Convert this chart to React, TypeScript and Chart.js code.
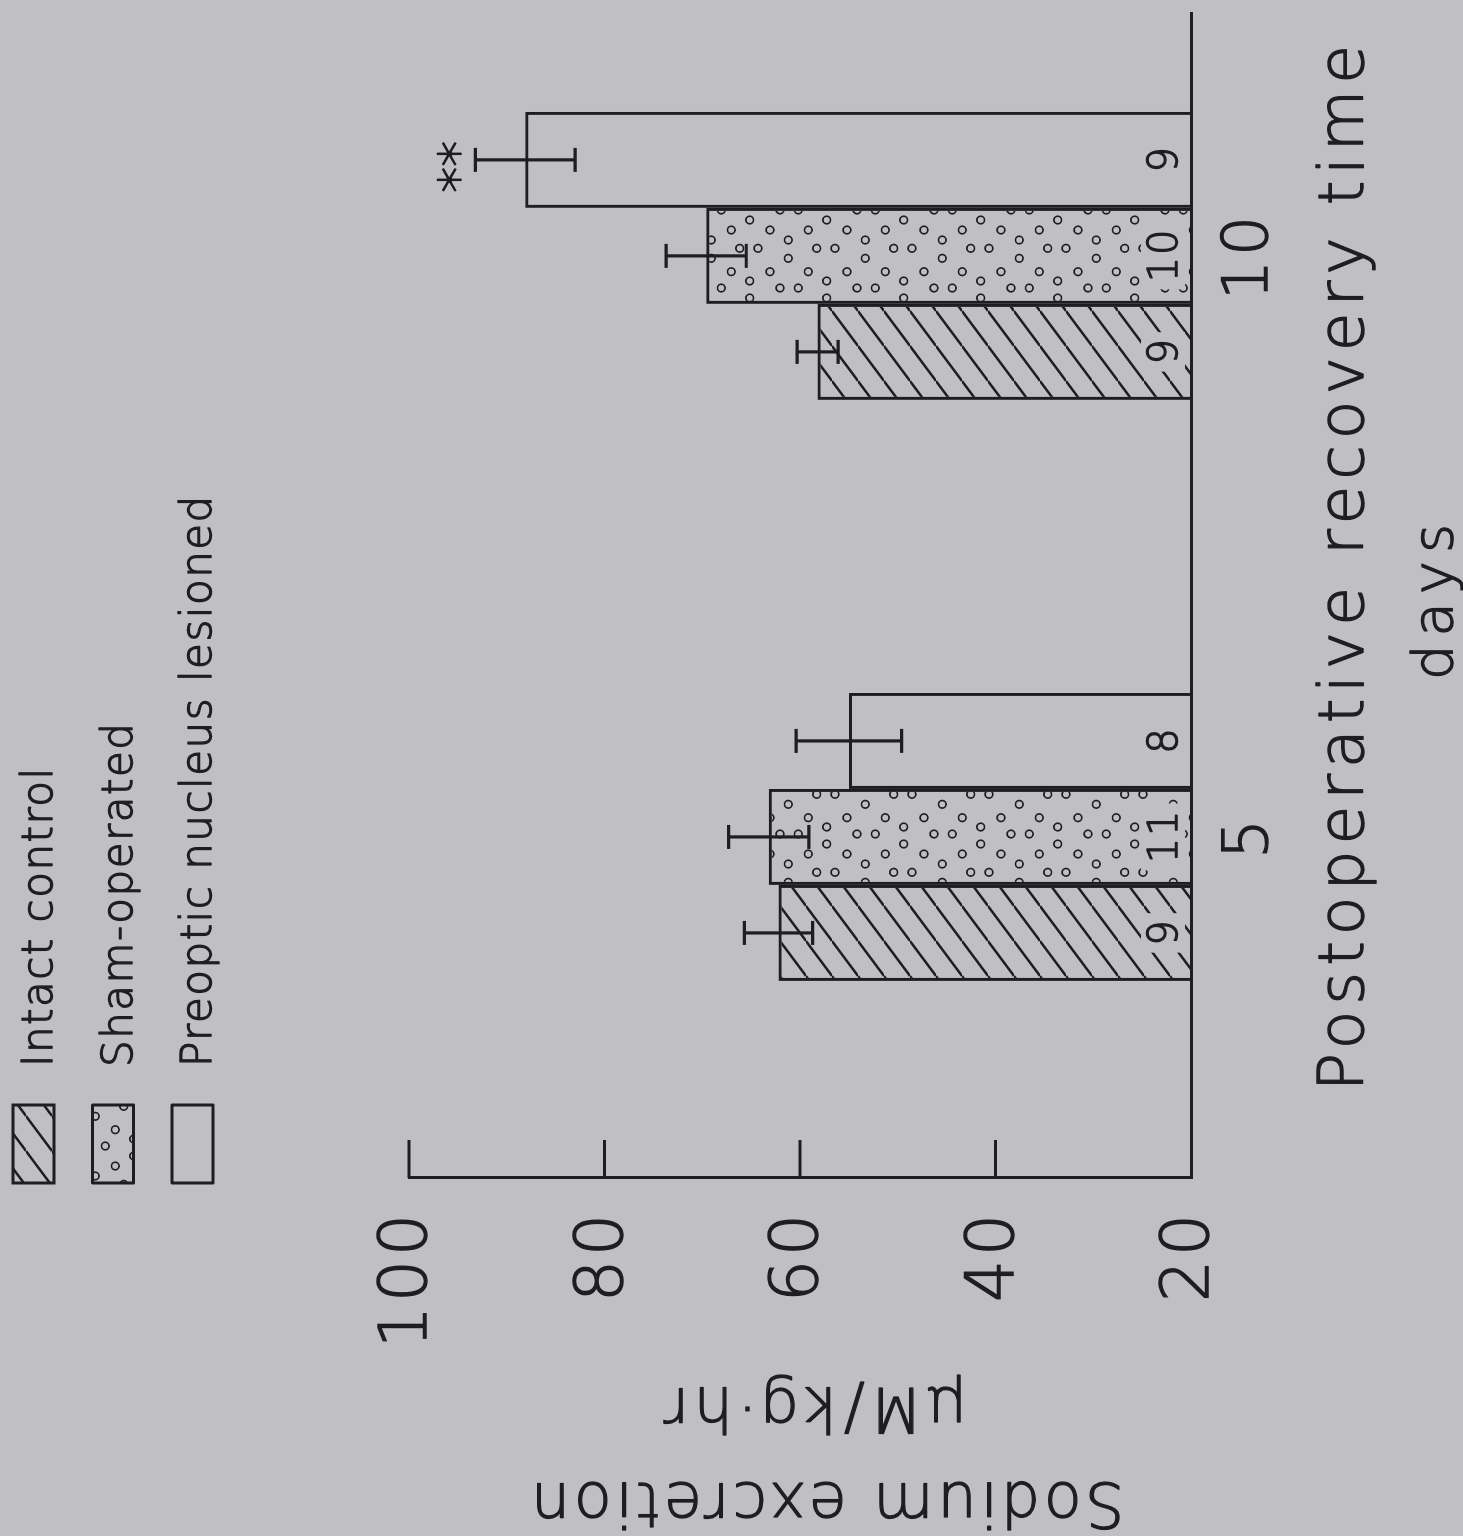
import { useEffect, useRef } from 'react';
import { Chart, registerables } from 'chart.js';

Chart.register(...registerables);

// ---- data -------------------------------------------------------------
const DAYS = [5, 10];
const INTACT_MEAN = [62.2, 58.2];
const SHAM_MEAN = [63.2, 69.6];
const PREOPTIC_MEAN = [55.0, 88.1];
const INTACT_SEM = [3.5, 2.1];
const SHAM_SEM = [4.1, 4.1];
const PREOPTIC_SEM = [5.4, 5.1];
const INTACT_N = ['9', '9'];
const SHAM_N = ['11', '10'];
const PREOPTIC_N = ['8', '9'];
const PREOPTIC_SIG = ['', '**'];
const Y_TICKS = [20, 40, 60, 80, 100];
const SERIES_NAMES = ['Intact control', 'Sham-operated', 'Preoptic nucleus lesioned'];
const X_TITLE = 'Postoperative recovery time';
const X_UNIT = 'days';
const Y_TITLE = 'Sodium excretion';
const Y_UNIT = 'µM/kg·hr';

// ---- look -------------------------------------------------------------
// The figure is laid out upright (W x H) and turned a quarter turn
// counter-clockwise on the page.
const W = 1536;
const H = 1463;
const BG = '#c0c0c4';
const INK = '#1e1e20';
const FAMILY = "'DejaVu Sans', 'Liberation Sans', sans-serif";
const WEIGHT = 300;
const STROKE = 1.3;
const font = (size: number) => `${WEIGHT} ${size}px ${FAMILY}`;

const PLOT = { left: 358, right: 1523, top: 409, bottom: 1191 };

function ink(c: CanvasRenderingContext2D, text: string, x: number, y: number) {
  c.lineWidth = STROKE;
  c.strokeStyle = INK;
  c.fillStyle = INK;
  c.lineJoin = 'round';
  c.strokeText(text, x, y);
  c.fillText(text, x, y);
}

function makeHatch(ctx: CanvasRenderingContext2D) {
  const tw = 35;
  const th = 26;
  const c = document.createElement('canvas');
  c.width = tw;
  c.height = th;
  const g = c.getContext('2d')!;
  g.strokeStyle = INK;
  g.lineWidth = 2.6;
  for (let k = -1; k <= 1; k++) {
    g.beginPath();
    g.moveTo(k * tw, th);
    g.lineTo(k * tw + tw, 0);
    g.stroke();
  }
  return ctx.createPattern(c, 'repeat')!;
}

// small open circles, staggered
const DOT_TILE = { w: 78, h: 77 };
const DOT_SPOTS = [
  [0, 10], [0, 28.3], [68, 56.7], [58, 0], [58, 38.3], [48, 18.3],
  [39.7, 46.7], [39.7, 65], [29.7, 18.3], [16.3, 0], [16.3, 38.3], [7, 56.7],
];

function makeDots(ctx: CanvasRenderingContext2D) {
  const c = document.createElement('canvas');
  c.width = DOT_TILE.w;
  c.height = DOT_TILE.h;
  const g = c.getContext('2d')!;
  g.strokeStyle = INK;
  g.lineWidth = 1.7;
  for (const [u, v] of DOT_SPOTS) {
    for (const du of [-DOT_TILE.w, 0, DOT_TILE.w]) {
      for (const dv of [-DOT_TILE.h, 0, DOT_TILE.h]) {
        g.beginPath();
        g.arc(u + du, v + dv, 3.8, 0, Math.PI * 2);
        g.stroke();
      }
    }
  }
  return ctx.createPattern(c, 'repeat')!;
}

export default function App() {
  const ref = useRef<HTMLCanvasElement>(null);

  useEffect(() => {
    document.body.style.background = BG;
    const canvas = ref.current!;
    const ctx = canvas.getContext('2d')!;
    const fills: any[] = [makeHatch(ctx), makeDots(ctx), 'rgba(0,0,0,0)'];
    const means = [INTACT_MEAN, SHAM_MEAN, PREOPTIC_MEAN];
    const sems = [INTACT_SEM, SHAM_SEM, PREOPTIC_SEM];
    const counts = [INTACT_N, SHAM_N, PREOPTIC_N];
    const yMin = Y_TICKS[0];
    const yMax = Y_TICKS[Y_TICKS.length - 1];

    const overlay = {
      id: 'overlay',
      beforeDraw(chart: any) {
        chart.ctx.letterSpacing = '4px';
      },
      afterDatasetsDraw(chart: any) {
        const c: CanvasRenderingContext2D = chart.ctx;
        const area = chart.chartArea;
        const y = chart.scales.y;
        c.save();
        c.letterSpacing = '0px';
        c.strokeStyle = INK;
        c.fillStyle = INK;
        c.lineWidth = 3;
        c.lineCap = 'butt';

        // tick marks pointing into the plot
        for (const t of Y_TICKS) {
          if (t === yMin) continue;
          const py = y.getPixelForValue(t);
          c.beginPath();
          c.moveTo(area.left, py);
          c.lineTo(area.left + 38, py);
          c.stroke();
        }

        means.forEach((series, di) => {
          const meta = chart.getDatasetMeta(di);
          meta.data.forEach((bar: any, i: number) => {
            const m = series[i];
            const e = sems[di][i];
            const top = y.getPixelForValue(m + e);
            const bot = y.getPixelForValue(m - e);
            c.lineWidth = 3.2;
            c.strokeStyle = INK;
            c.beginPath();
            c.moveTo(bar.x, top);
            c.lineTo(bar.x, bot);
            c.moveTo(bar.x - 12, top);
            c.lineTo(bar.x + 12, top);
            c.moveTo(bar.x - 12, bot);
            c.lineTo(bar.x + 12, bot);
            c.stroke();

            // group size at the foot of each bar
            const label = counts[di][i];
            c.font = font(40);
            c.letterSpacing = '2px';
            const tw = c.measureText(label).width;
            const base = area.bottom - 14;
            if (di < 2) {
              c.fillStyle = BG;
              c.fillRect(bar.x - tw / 2 - 6, base - 36, tw + 12, 44);
            }
            c.textAlign = 'center';
            c.textBaseline = 'alphabetic';
            ink(c, label, bar.x + 1, base);

            if (di === 2 && PREOPTIC_SIG[i]) {
              c.font = font(52);
              c.letterSpacing = '0px';
              ink(c, PREOPTIC_SIG[i], bar.x - 7, top + 1);
            }
          });
        });
        c.restore();
      },
      afterDraw(chart: any) {
        const c: CanvasRenderingContext2D = chart.ctx;
        const area = chart.chartArea;
        c.save();

        // legend
        SERIES_NAMES.forEach((name, i) => {
          const bx = 353;
          const by = 13 + i * 79.5;
          c.fillStyle = fills[i];
          c.fillRect(bx, by, 78, 41);
          c.lineWidth = 3;
          c.strokeStyle = INK;
          c.strokeRect(bx, by, 78, 41);
          c.font = font(42);
          c.letterSpacing = '1.5px';
          c.textAlign = 'left';
          c.textBaseline = 'alphabetic';
          ink(c, name, 469, by + 39);
        });

        // x-axis title
        c.textAlign = 'center';
        c.textBaseline = 'alphabetic';
        c.font = font(63);
        c.letterSpacing = '6px';
        ink(c, X_TITLE, area.left + 613, area.bottom + 172);
        c.font = font(56);
        c.letterSpacing = '8px';
        ink(c, X_UNIT, area.left + 580, area.bottom + 261);

        // y-axis title, turned to read upward
        const midV = (area.top + area.bottom) / 2 + 26;
        c.save();
        c.translate(53, midV);
        c.rotate(-Math.PI / 2);
        c.font = font(62);
        c.letterSpacing = '3.5px';
        ink(c, Y_TITLE, 0, 0);
        c.restore();
        c.save();
        c.translate(148, midV - 13);
        c.rotate(-Math.PI / 2);
        c.font = font(62);
        c.letterSpacing = '4.5px';
        ink(c, Y_UNIT, 0, 0);
        c.restore();

        c.restore();
      },
    };

    const tickFont = (size: number) => ({ family: FAMILY, size, weight: WEIGHT as any });

    const chart = new Chart(canvas, {
      type: 'bar',
      data: {
        datasets: SERIES_NAMES.map((name, i) => ({
          label: name,
          data: DAYS.map((d, j) => ({ x: d, y: means[i][j] })),
          backgroundColor: fills[i],
          borderColor: INK,
          borderWidth: 3,
          base: yMin,
          categoryPercentage: 0.4957,
          barPercentage: 1,
        })),
      },
      options: {
        responsive: false,
        animation: false,
        devicePixelRatio: 1,
        layout: {
          padding: { top: PLOT.top, right: W - PLOT.right, bottom: 0, left: 0 },
        },
        plugins: {
          legend: { display: false },
          tooltip: { enabled: false },
        },
        scales: {
          x: {
            type: 'linear',
            offset: false,
            min: 2.065,
            max: 12.09,
            afterBuildTicks: (s: any) => {
              s.ticks = DAYS.map((v) => ({ value: v }));
            },
            afterFit: (s: any) => {
              s.height = H - PLOT.bottom;
            },
            grid: { display: false, drawTicks: false, offset: false },
            border: { display: true, color: INK, width: 3 },
            ticks: {
              color: INK,
              textStrokeColor: INK,
              textStrokeWidth: STROKE,
              font: tickFont(63),
              padding: 22,
              autoSkip: false,
              maxRotation: 0,
              minRotation: 0,
              callback: (v: any) => String(v),
            },
          },
          y: {
            type: 'linear',
            min: yMin,
            max: yMax,
            afterBuildTicks: (s: any) => {
              s.ticks = Y_TICKS.map((v) => ({ value: v }));
            },
            afterFit: (s: any) => {
              s.width = PLOT.left;
            },
            grid: { display: false, drawTicks: false },
            border: { display: true, color: INK, width: 3 },
            ticks: {
              color: INK,
              textStrokeColor: INK,
              textStrokeWidth: STROKE,
              font: tickFont(66),
              padding: 32,
              callback: (v: any) => String(v),
            },
          },
        },
      } as any,
      plugins: [overlay],
    });

    return () => chart.destroy();
  }, []);

  return (
    <div
      style={{
        position: 'absolute',
        left: 0,
        top: 0,
        width: H,
        height: W,
        overflow: 'hidden',
        background: BG,
      }}
    >
      <div
        style={{
          position: 'absolute',
          left: 0,
          top: 0,
          width: W,
          height: H,
          transformOrigin: '0 0',
          transform: `translate(0px, ${W}px) rotate(-90deg)`,
        }}
      >
        <canvas ref={ref} width={W} height={H} style={{ display: 'block', width: W, height: H }} />
      </div>
    </div>
  );
}
